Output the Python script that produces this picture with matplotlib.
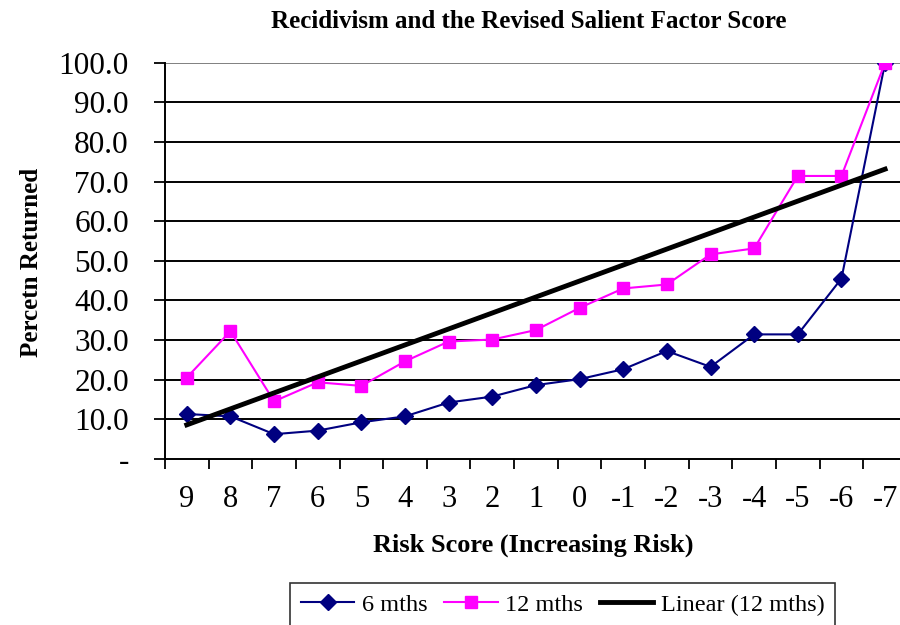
import matplotlib.pyplot as plt
import numpy as np

plt.rcParams['font.family'] = ['Liberation Serif', 'DejaVu Serif']

risk_scores = ['9', '8', '7', '6', '5', '4', '3', '2', '1', '0',
               '-1', '-2', '-3', '-4', '-5', '-6', '-7']
six_mths = [11.3, 10.7, 6.2, 7.1, 9.2, 10.7, 14.2, 15.7, 18.6, 20.1,
            22.6, 27.2, 23.2, 31.4, 31.4, 45.5, 100.0]
twelve_mths = [20.5, 32.2, 14.5, 19.3, 18.4, 24.6, 29.6, 30.1, 32.5, 38.1,
               43.0, 44.0, 51.6, 53.1, 71.4, 71.4, 100.0]
y_ticks = [0, 10, 20, 30, 40, 50, 60, 70, 80, 90, 100]

x = np.arange(1, len(risk_scores) + 1)
slope, intercept = np.polyfit(x, twelve_mths, 1)
trend = slope * x + intercept

fig = plt.figure(figsize=(9, 6.25), dpi=100)
ax = fig.add_axes([0.1833, 0.266, 0.8244, 0.6337])

for yv in y_ticks[1:-1]:
    ax.axhline(yv, color='black', lw=1.4, zorder=1)
ax.axhline(100, color='#808080', lw=1.4, zorder=1)

ax.plot(x, six_mths, color='#000080', lw=1.5, marker='D', ms=8,
        label='6 mths', zorder=3)
ax.plot(x, twelve_mths, color='#FF00FF', lw=1.5, marker='s', ms=9,
        label='12 mths', zorder=3)
ax.plot(x, trend, color='black', lw=3.5, label='Linear (12 mths)', zorder=4)

ax.set_xlim(0.5, 17.5)
ax.set_ylim(0, 100)
ax.set_xticks(np.arange(0.5, 17, 1.0))
ax.set_xticklabels([])
ax.set_xticks(x, minor=True)
ax.set_xticklabels(risk_scores, minor=True)
ax.tick_params(axis='x', which='major', direction='out', length=7, width=1.3)
ax.tick_params(axis='x', which='minor', length=0, pad=19, labelsize=22)

ax.set_yticks(y_ticks)
ax.set_yticklabels(['-'] + ['%.1f' % v for v in y_ticks[1:]])
ax.tick_params(axis='y', direction='out', length=8, width=1.3, pad=18,
               labelsize=22.5)

for side in ['top', 'right']:
    ax.spines[side].set_visible(False)
for side in ['left', 'bottom']:
    ax.spines[side].set_linewidth(1.4)

fig.text(0.588, 0.965, 'Recidivism and the Revised Salient Factor Score',
         ha='center', va='center', fontsize=18, fontweight='bold')
fig.text(0.592, 0.128, 'Risk Score (Increasing Risk)',
         ha='center', va='center', fontsize=19, fontweight='bold')
fig.text(0.035, 0.58, 'Percetn Returned', rotation=90,
         ha='center', va='center', fontsize=18, fontweight='bold')

leg = fig.legend(loc='upper left', bbox_to_anchor=(290 / 900, 1 - 583 / 625),
                 ncol=3, fontsize=17.5, frameon=True, fancybox=False,
                 edgecolor='black', handlelength=2.2, columnspacing=0.7,
                 handletextpad=0.3, borderpad=0.45, borderaxespad=0)
leg.get_frame().set_linewidth(1.2)

fig.savefig('out.png', dpi=100)
